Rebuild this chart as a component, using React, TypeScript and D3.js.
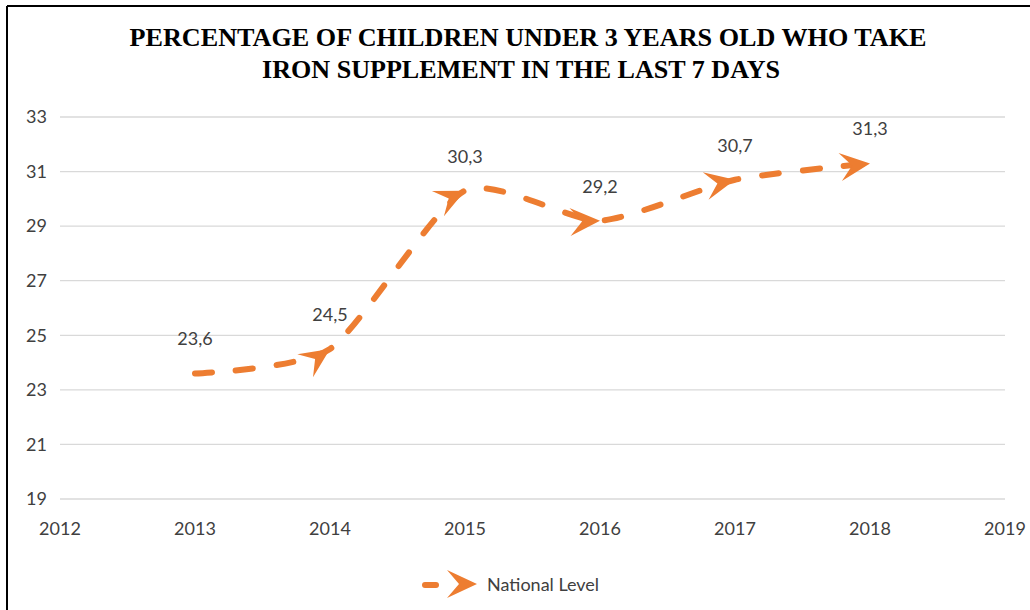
import React from "react";
import * as d3 from "d3";

const years = [2013, 2014, 2015, 2016, 2017, 2018];
const values = [23.6, 24.5, 30.3, 29.2, 30.7, 31.3];
const labels = ["23,6", "24,5", "30,3", "29,2", "30,7", "31,3"];
const yTicks = [19, 21, 23, 25, 27, 29, 31, 33];
const xTicks = [2012, 2013, 2014, 2015, 2016, 2017, 2018, 2019];
const titleLines = [
  "PERCENTAGE OF CHILDREN UNDER 3 YEARS OLD WHO TAKE",
  "IRON SUPPLEMENT IN THE LAST 7 DAYS",
];
const titleWidths = [797, 518];
const titleCenters = [528, 521];
const seriesName = "National Level";

const W = 1030;
const H = 610;
const ORANGE = "#ED7D31";
const TXT = "#404040";
const FONT = "Lato, 'Open Sans', sans-serif";
const TENSION = 0.35;

function arrowPath(x: number, y: number, ang: number) {
  const pts: [number, number][] = [
    [0, 0],
    [-30, -14],
    [-18, 0],
    [-30, 14],
  ];
  const c = Math.cos(ang);
  const s = Math.sin(ang);
  return (
    "M" +
    pts
      .map(([px, py]) => `${(x + px * c - py * s).toFixed(2)},${(y + px * s + py * c).toFixed(2)}`)
      .join("L") +
    "Z"
  );
}

export default function App() {
  const x = d3.scaleLinear().domain([2012, 2019]).range([60, 1005]);
  const y = d3.scaleLinear().domain([19, 33]).range([499, 117]);

  const pts: [number, number][] = years.map((yr, i) => [x(yr), y(values[i])]);
  const line = d3.line().curve(d3.curveCardinal.tension(TENSION));
  const d = line(pts) || "";

  const angles = pts.map((p, i) => {
    const prev = pts[Math.max(0, i - 1)];
    const next = pts[Math.min(pts.length - 1, i + 1)];
    return Math.atan2(next[1] - prev[1], next[0] - prev[0]);
  });

  return (
    <div style={{ position: "absolute", left: 0, top: 0 }}>
      <svg width={W} height={H} style={{ display: "block", background: "#fff" }}>
        <rect x={0} y={0} width={W} height={H} fill="#fff" />
        <line x1={7} y1={6} x2={W} y2={6} stroke="#000" strokeWidth={2} />
        <line x1={7} y1={6} x2={7} y2={H} stroke="#000" strokeWidth={2} />

        {titleLines.map((t, i) => (
          <text
            key={i}
            x={titleCenters[i]}
            y={46 + i * 32}
            textAnchor="middle"
            fontFamily="'Liberation Serif', 'Times New Roman', serif"
            fontWeight="bold"
            fontSize={25}
            textLength={titleWidths[i]}
            lengthAdjust="spacingAndGlyphs"
            fill="#000"
          >
            {t}
          </text>
        ))}

        {yTicks.map((t) => (
          <g key={t}>
            <line x1={x(2012)} x2={x(2019)} y1={y(t)} y2={y(t)} stroke="#d9d9d9" strokeWidth={1.3} />
            <text x={47} y={y(t)} dy="0.35em" textAnchor="end" fontFamily={FONT} fontSize={18} fill={TXT}>
              {t}
            </text>
          </g>
        ))}

        {xTicks.map((t) => (
          <text key={t} x={x(t)} y={535} textAnchor="middle" fontFamily={FONT} fontSize={18} fill={TXT}>
            {t}
          </text>
        ))}

        <path
          d={d}
          fill="none"
          stroke={ORANGE}
          strokeWidth={6}
          strokeDasharray="17 24"
          strokeLinecap="round"
        />
        {pts.slice(1).map((p, i) => (
          <path key={i} d={arrowPath(p[0], p[1], angles[i + 1])} fill={ORANGE} />
        ))}

        {pts.map((p, i) => (
          <text
            key={i}
            x={p[0]}
            y={p[1] - 28}
            textAnchor="middle"
            fontFamily={FONT}
            fontSize={18}
            fill={TXT}
          >
            {labels[i]}
          </text>
        ))}

        <line x1={425} x2={436} y1={585} y2={585} stroke={ORANGE} strokeWidth={6} strokeLinecap="round" />
        <path d={arrowPath(477, 584, 0)} fill={ORANGE} />
        <text x={487} y={585} dy="0.35em" fontFamily={FONT} fontSize={18} fill={TXT}>
          {seriesName}
        </text>
      </svg>
    </div>
  );
}
